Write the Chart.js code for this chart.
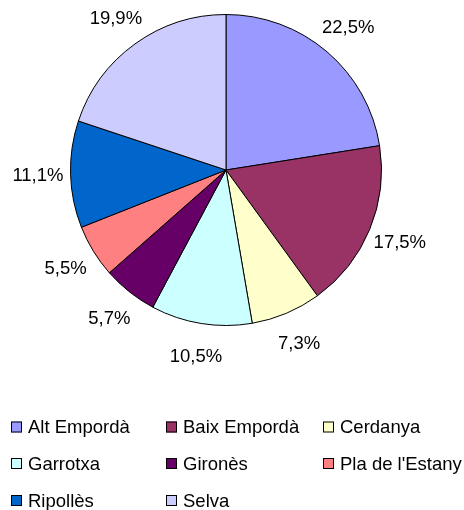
<!DOCTYPE html>
<html>
<head>
<meta charset="utf-8">
<script src="https://cdn.jsdelivr.net/npm/chart.js@4"></script>
<style>
  html, body { margin: 0; padding: 0; background: #fff; }
  #wrap { width: 464px; height: 510px; }
</style>
</head>
<body>
<div id="wrap"><canvas id="chart1" width="464" height="510"></canvas></div>
<script>
const comarques = ['Alt Empordà', 'Baix Empordà', 'Cerdanya', 'Garrotxa', 'Gironès', "Pla de l'Estany", 'Ripollès', 'Selva'];
const percentatges = [22.5, 17.5, 7.3, 10.5, 5.7, 5.5, 11.1, 19.9];
const colors = ['#9999FF', '#993366', '#FFFFCC', '#CCFFFF', '#660066', '#FF8080', '#0066CC', '#CCCCFF'];

const FONT = '18.5px "Liberation Sans", Arial, sans-serif';

// percent labels around the pie + legend grid under it
const extras = {
  id: 'extras',
  afterDraw(chart) {
    const ctx = chart.ctx;
    const arcs = chart.getDatasetMeta(0).data;
    ctx.save();
    ctx.font = FONT;
    ctx.fillStyle = '#000';
    ctx.textAlign = 'center';
    ctx.textBaseline = 'middle';
    arcs.forEach((arc, i) => {
      const mid = (arc.startAngle + arc.endAngle) / 2;
      const r = arc.outerRadius * 1.21;
      const x = arc.x + Math.cos(mid) * r;
      const y = arc.y + Math.sin(mid) * r;
      ctx.fillText(percentatges[i].toFixed(1).replace('.', ',') + '%', x, y + 1);
    });

    // legend: 3 columns
    const colX = [11, 166, 323];
    const rowY = [427, 463.5, 500.5];
    ctx.textAlign = 'left';
    comarques.forEach((name, i) => {
      const bx = colX[i % 3];
      const by = rowY[Math.floor(i / 3)];
      ctx.fillStyle = colors[i];
      ctx.fillRect(bx, by - 5.5, 11, 11);
      ctx.strokeStyle = '#000';
      ctx.lineWidth = 1;
      ctx.strokeRect(bx + 0.5, by - 5, 10, 10);
      ctx.fillStyle = '#000';
      ctx.fillText(name, bx + 17, by + 1);
    });
    ctx.restore();
  }
};

new Chart(document.getElementById('chart1'), {
  type: 'pie',
  data: {
    labels: comarques,
    datasets: [{
      data: percentatges,
      backgroundColor: colors,
      borderColor: '#000',
      borderWidth: 1,
      hoverOffset: 0
    }]
  },
  options: {
    responsive: false,
    animation: false,
    layout: { padding: { top: 14, bottom: 184, left: 70, right: 82 } },
    plugins: {
      legend: { display: false },
      tooltip: { enabled: false }
    }
  },
  plugins: [extras]
});
</script>
</body>
</html>
